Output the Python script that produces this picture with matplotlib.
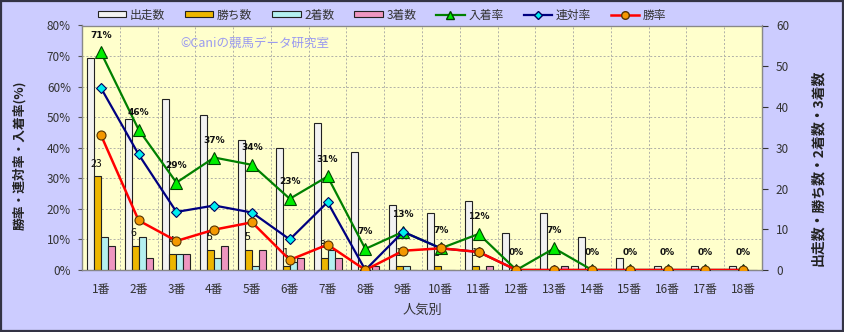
import matplotlib
matplotlib.use("Agg")
import matplotlib.pyplot as plt
import numpy as np
from matplotlib.patches import Rectangle
from matplotlib.lines import Line2D
from matplotlib.patches import Patch

plt.rcParams['font.family'] = ['Noto Sans CJK JP', 'DejaVu Sans']

categories = ["1番", "2番", "3番", "4番", "5番", "6番", "7番", "8番", "9番", "10番",
              "11番", "12番", "13番", "14番", "15番", "16番", "17番", "18番"]
starts = [52, 37, 42, 38, 32, 30, 36, 29, 16, 14, 17, 9, 14, 8, 3, 1, 1, 1]
wins = [23, 6, 4, 5, 5, 1, 3, 0, 1, 1, 1, 0, 0, 0, 0, 0, 0, 0]
seconds = [8, 8, 4, 3, 1, 2, 5, 0, 1, 0, 0, 0, 0, 0, 0, 0, 0, 0]
thirds = [6, 3, 4, 6, 5, 3, 3, 1, 0, 0, 1, 0, 1, 0, 0, 0, 0, 0]
win_rate = [44.2, 16.2, 9.5, 13.2, 15.6, 3.3, 8.3, 0, 6.3, 7.1, 5.9, 0, 0, 0, 0, 0, 0, 0]
rentai_rate = [59.6, 37.8, 19.0, 21.1, 18.8, 10.0, 22.2, 0, 12.5, 7.1, 5.9, 0, 0, 0, 0, 0, 0, 0]
place_rate = [71.2, 45.9, 28.6, 36.8, 34.4, 23.3, 30.6, 6.9, 12.5, 7.1, 11.8, 0, 7.1, 0, 0, 0, 0, 0]

W, H = 845, 332
fig = plt.figure(figsize=(W / 100, H / 100), dpi=100)
fig.patch.set_facecolor('#CCCCFF')

L, R, T, B = 82, 762, 25.5, 270
pos = [L / W, 1 - B / H, (R - L) / W, (B - T) / H]

ax = fig.add_axes(pos)          # percent axis, background + grid
ax.set_facecolor('#FFFFCC')
ax2 = ax.twinx()                # counts axis, bars
ax3 = ax.twinx()                # percent axis, lines
ax.set_zorder(0); ax2.set_zorder(1); ax3.set_zorder(2)
ax2.patch.set_visible(False); ax3.patch.set_visible(False)

x = np.arange(len(categories))
n = len(categories)
for a in (ax, ax2, ax3):
    a.set_xlim(-0.5, n - 0.5)
ax.set_ylim(0, 80); ax3.set_ylim(0, 80)
ax2.set_ylim(0, 60)

# grid
ax.set_yticks(np.arange(0, 81, 10))
ax.set_yticklabels([f"{v}%" for v in range(0, 81, 10)])
ax.set_xticks(x)
ax.set_xticklabels(categories)
ax.set_xticks(np.arange(-0.5, n, 1), minor=True)
ax.grid(True, which='minor', axis='x', color='#B0B0A8', linestyle=(0, (2, 2)), linewidth=0.7)
ax.grid(True, which='major', axis='y', color='#B0B0A8', linestyle=(0, (2, 2)), linewidth=0.7)
ax.tick_params(axis='x', which='both', length=0, pad=9, labelsize=8.5, labelcolor='#333333')
ax.tick_params(axis='y', length=3, pad=5, labelsize=8.5, labelcolor='#333333', color='#555555')

ax2.set_yticks(np.arange(0, 61, 10))
ax2.tick_params(axis='y', length=4, pad=6, labelsize=8.5, labelcolor='#333333', color='#333333')
ax3.set_yticks([])
ax3.tick_params(axis='x', which='both', bottom=False, labelbottom=False)
ax2.tick_params(axis='x', which='both', bottom=False, labelbottom=False)

for a in (ax, ax2, ax3):
    for s in a.spines.values():
        s.set_color('#888888')
        s.set_linewidth(0.8)
ax.spines['left'].set_color('#444444')
ax.spines['bottom'].set_color('#444444')
ax2.spines['right'].set_color('#333333')

# bars
bw = 0.185
offs = [-1.5 * bw, -0.5 * bw, 0.5 * bw, 1.5 * bw]
bar_colors = ['#F2F2F2', '#EDB600', '#B4F0F0', '#EE96C0']
series = [starts, wins, seconds, thirds]
for off, col, vals in zip(offs, bar_colors, series):
    ax2.bar(x + off, vals, width=bw, color=col, edgecolor='#222222', linewidth=0.8, zorder=2)

for xi, v in zip(x, wins):
    if v > 0:
        ax2.annotate(str(v), (xi + offs[1], v), xytext=(-1, 9), textcoords='offset points',
                     ha='center', va='center', fontsize=7.5, color='#111111', zorder=3)

# lines
ax3.plot(x, place_rate, color='#008000', linewidth=1.6, marker='^', markersize=8,
         markerfacecolor='#00EE00', markeredgecolor='#004400', markeredgewidth=0.8, zorder=3)
ax3.plot(x, rentai_rate, color='#000080', linewidth=1.6, marker='D', markersize=5.5,
         markerfacecolor='#00EEEE', markeredgecolor='#000060', markeredgewidth=0.8, zorder=4)
ax3.plot(x, win_rate, color='#FF0000', linewidth=1.8, marker='o', markersize=6.5,
         markerfacecolor='#F49800', markeredgecolor='#553300', markeredgewidth=0.8, zorder=5)

for xi, v in zip(x, place_rate):
    ax3.annotate(f"{int(v + 0.5)}%", (xi, v), xytext=(0, 12.5), textcoords='offset points',
                 ha='center', va='center', fontsize=6.5, fontweight='bold', color='#111111',
                 family=['DejaVu Sans'], zorder=6)

# watermark
ax3.text(0.145, 0.925, "©Caniの競馬データ研究室", transform=ax3.transAxes, fontsize=9,
         color='#9A9AF0', ha='left', va='center', zorder=1)

# axis labels
ax.set_xlabel("人気別", fontsize=9.5, color='#333333', labelpad=6)
fig.text(20 / W, 1 - 155 / H, "勝率・連対率・入着率(%)", rotation=90, ha='center', va='center',
         fontsize=9.2, fontweight='bold', color='#222222')
fig.text(818 / W, 1 - 168 / H, "出走数・勝ち数・2着数・3着数", rotation=90, ha='center', va='center',
         fontsize=10, fontweight='bold', color='#222222')

# legend
labels = ["出走数", "勝ち数", "2着数", "3着数", "入着率", "連対率", "勝率"]
handles = [Patch(facecolor=c, edgecolor='#222222', linewidth=0.8) for c in bar_colors]
handles += [
    Line2D([], [], color='#008000', linewidth=1.6, marker='^', markersize=6,
           markerfacecolor='#00EE00', markeredgecolor='#004400'),
    Line2D([], [], color='#000080', linewidth=1.6, marker='D', markersize=4.5,
           markerfacecolor='#00EEEE', markeredgecolor='#000060'),
    Line2D([], [], color='#FF0000', linewidth=1.8, marker='o', markersize=5.5,
           markerfacecolor='#F49800', markeredgecolor='#553300'),
]
leg = fig.legend(handles, labels, ncol=7, loc='center', bbox_to_anchor=(382 / W, 1 - 15 / H),
                 frameon=False, fontsize=8.5, handlelength=2.4, handleheight=0.45,
                 handletextpad=0.3, columnspacing=1.7, borderaxespad=0)
for t in leg.get_texts():
    t.set_color('#333333')

fig.patches.append(Rectangle((0.001, 0.002), 0.997, 0.995, transform=fig.transFigure,
                             fill=False, edgecolor='#333344', linewidth=1.6))

fig.savefig("out.png", dpi=100, facecolor=fig.get_facecolor())
